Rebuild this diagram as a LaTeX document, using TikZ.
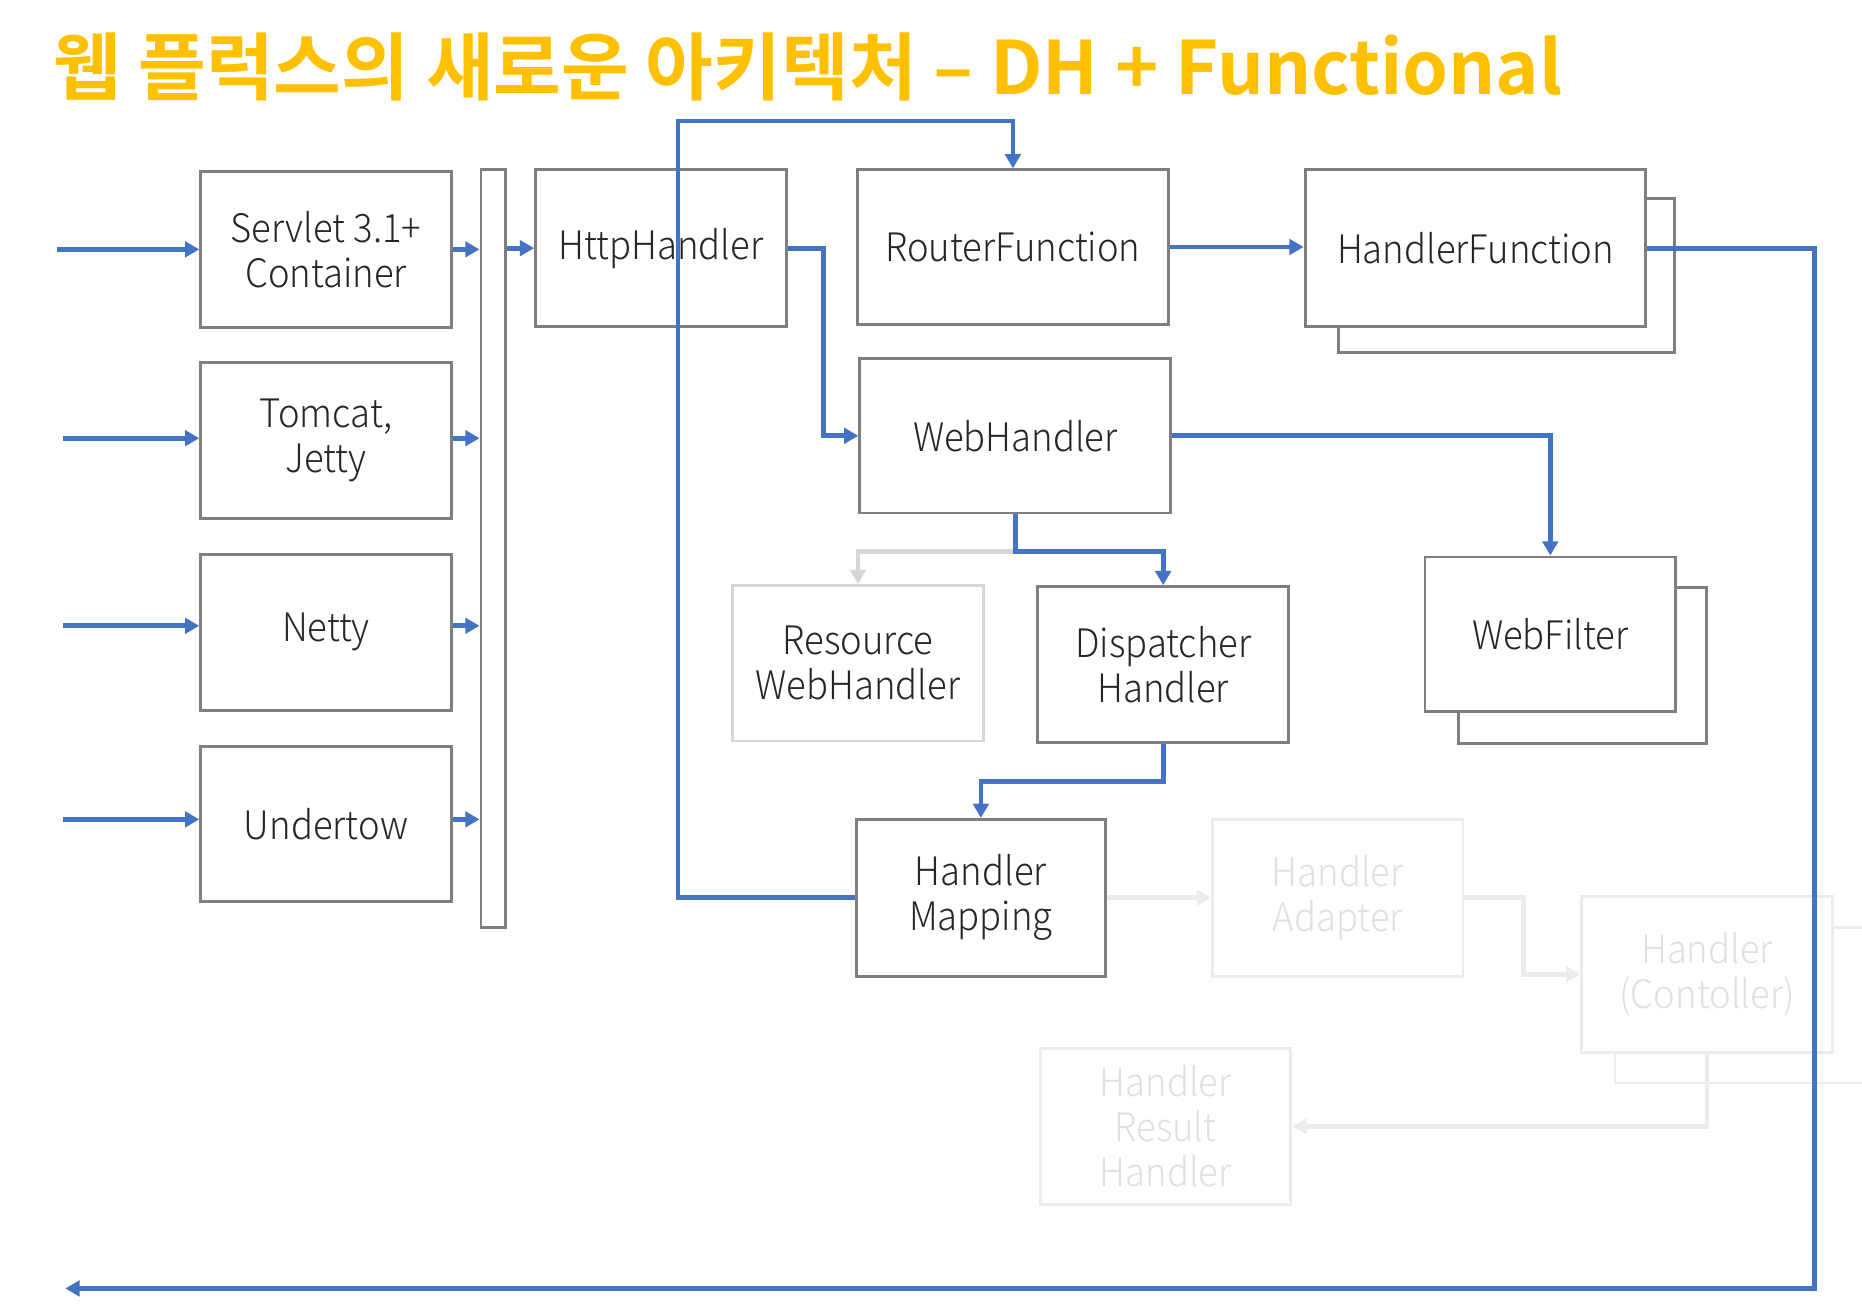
\documentclass[tikz,border=0pt]{standalone}
\usepackage{fontspec}
\setmainfont{Noto Sans CJK KR}[UprightFont=* Light,BoldFont=* Bold,FakeStretch=0.93]
\newfontfamily\titlefont{Noto Sans CJK KR Bold}
\usetikzlibrary{arrows.meta}
\definecolor{ablue}{HTML}{4472C4}
\definecolor{bgray}{HTML}{7F7F7F}
\definecolor{tgold}{HTML}{FFC000}
\definecolor{fadeA}{HTML}{D6D6D6}
\definecolor{fadeB}{HTML}{ECECEC}
\definecolor{fadeT}{HTML}{E0E0E0}
\definecolor{txt}{HTML}{262626}
\begin{document}
\begin{tikzpicture}[x=0.5pt,y=-0.5pt,
  box/.style={draw=bgray,line width=1.2pt,fill=white,inner sep=0pt,align=center,text=txt,
    font=\fontsize{16.5pt}{19pt}\selectfont},
  fbox/.style={box,draw=fadeB,text=fadeT},
  sw/.style={minimum width=105.5pt,minimum height=65.5pt},
  mw/.style={minimum width=131pt,minimum height=65pt},
  arr/.style={draw=ablue,line width=2pt,-{Triangle[length=6pt,width=6.5pt]}},
  garr/.style={arr,draw=fadeA},
  farr/.style={arr,draw=fadeB}]
\useasboundingbox (0,0) rectangle (1568,1101);
\fill[white] (0,0) rectangle (1568,1101);

% title
\node[anchor=base west,text=tgold,inner sep=0pt,font=\fontsize{31pt}{36pt}\titlefont] (title) at (45,80)
  {웹 플럭스의 새로운 아키텍처 – DH + Functional};

% left column
\node[box,sw] (servlet) at (274.5,210) {Servlet 3.1+\\Container};
\node[box,sw] (tomcat) at (274.5,371) {Tomcat,\\Jetty};
\node[box,sw] (netty) at (274.5,532.5) {Netty};
\node[box,sw] (undertow) at (274.5,694) {Undertow};
\node[box,minimum width=10.5pt,minimum height=319pt] (bar) at (415.5,462) {};

% main boxes
\node[box,sw,minimum height=66pt] (httph) at (556.5,209) {HttpHandler};
\node[box,mw] (router) at (853,208) {RouterFunction};
\node[box,minimum width=141.5pt,minimum height=65pt] (hfshadow) at (1268.5,232) {};
\node[box,minimum width=143.5pt,minimum height=66pt] (hfunc) at (1242.5,209) {HandlerFunction};
\node[box,mw] (webh) at (855,367) {WebHandler};
\node[box,sw,draw=fadeA] (res) at (722.5,558.5) {Resource\\WebHandler};
\node[box,sw] (disp) at (979.5,559.5) {Dispatcher\\Handler};
\node[box,sw,minimum width=104.5pt] (wfshadow) at (1332.5,560.5) {};
\node[box,sw,minimum height=65pt] (wfilter) at (1305.5,534) {WebFilter};
\node[box,sw,minimum width=105pt,minimum height=66pt] (hmap) at (826,756) {Handler\\Mapping};
\node[fbox,sw,minimum height=66pt] (hadapt) at (1126.5,756) {Handler\\Adapter};
\node[fbox,sw] (hcshadow) at (1465.5,846.5) {};
\node[fbox,sw] (hctrl) at (1437.5,820.5) {Handler\\(Contoller)};
\node[fbox,sw] (hrh) at (981.5,948.5) {Handler\\Result\\Handler};

% free ends
\coordinate (in1) at (48,210);
\coordinate (in2) at (53,369);
\coordinate (in3) at (53,527);
\coordinate (in4) at (53,690);
\coordinate (rc) at (1528,1085);
\coordinate (outend) at (55,1085);
\coordinate (lt) at (571,102);

% faded connectors
\draw[farr] (hmap.east) -- (hadapt.west);
\draw[farr] (hadapt.east) -- ++(50,0) |- (hctrl.west);
\draw[farr] (hctrl.south) |- (hrh.east);
\draw[garr] (webh.south) -- ++(0,31) -| (res.north);

% blue connectors
\draw[arr] (in1) -- (in1 -| servlet.west);
\draw[arr] (in2) -- (in2 -| tomcat.west);
\draw[arr] (in3) -- (in3 -| netty.west);
\draw[arr] (in4) -- (in4 -| undertow.west);
\draw[arr] (in1 -| servlet.east) -- (in1 -| bar.west);
\draw[arr] (in2 -| tomcat.east) -- (in2 -| bar.west);
\draw[arr] (in3 -| netty.east) -- (in3 -| bar.west);
\draw[arr] (in4 -| undertow.east) -- (in4 -| bar.west);
\draw[arr] (httph.west -| bar.east) -- (httph.west);
\draw[arr] (httph.east) -- ++(30,0) |- (webh.west);
\draw[arr] (router.east) -- (router.east -| hfunc.west);
\draw[arr] (hfunc.east) -| (rc) -- (outend);
\draw[arr] (webh.east) -| (wfilter.north);
\draw[arr] (webh.south) -- ++(0,31) -| (disp.north);
\draw[arr] (disp.south) -- ++(0,32) -| (hmap.north);
\draw[arr] (hmap.west) -| (lt) -| (router.north);
\end{tikzpicture}
\end{document}
